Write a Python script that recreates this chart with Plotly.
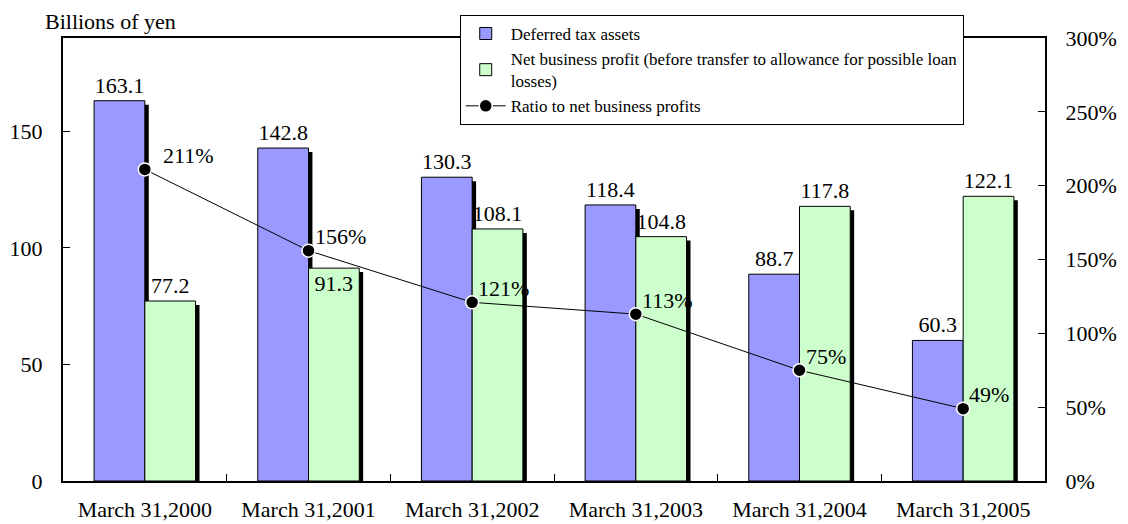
import plotly.graph_objects as go

dates = ["March 31,2000", "March 31,2001", "March 31,2002",
         "March 31,2003", "March 31,2004", "March 31,2005"]
deferred_tax = [163.1, 142.8, 130.3, 118.4, 88.7, 60.3]
net_profit = [77.2, 91.3, 108.1, 104.8, 117.8, 122.1]
ratio = [211, 156, 121, 113, 75, 49]

FONT = "Liberation Serif, Times New Roman, serif"
BLUE = "#9999FF"
GREEN = "#CCFFCC"
W = 0.31
SH = 0.024  # shadow shift (category units)
SHY = 1.7   # shadow drop (value units)

fig = go.Figure()

# drop shadows behind the bars
for vals, off in [(deferred_tax, -W), (net_profit, 0.0)]:
    fig.add_trace(go.Bar(
        x=dates, y=[v - SHY for v in vals], width=W, offset=off + SH,
        marker=dict(color="black", line=dict(width=0)),
        showlegend=False, hoverinfo="skip"))

fig.add_trace(go.Bar(
    x=dates, y=deferred_tax, name="Deferred tax assets",
    width=W, offset=-W,
    marker=dict(color=BLUE, line=dict(color="black", width=1)),
    text=[f"{v:.1f}" for v in deferred_tax], textposition="outside",
    textfont=dict(size=22, color="black", family=FONT), cliponaxis=False))

# the 2001 label sits down on the bar top in the original (clear of the line)
green_pos = ["outside", "inside", "outside", "outside", "outside", "outside"]
fig.add_trace(go.Bar(
    x=dates, y=net_profit,
    name="Net business profit (before transfer to allowance for possible loan<br>losses)",
    width=W, offset=0.0,
    marker=dict(color=GREEN, line=dict(color="black", width=1)),
    text=[f"{v:.1f}" for v in net_profit], textposition=green_pos,
    insidetextanchor="end", constraintext="none",
    textfont=dict(size=22, color="black", family=FONT), cliponaxis=False))

fig.add_trace(go.Scatter(
    x=dates, y=ratio, yaxis="y2", name="Ratio to net business profits",
    mode="lines+markers",
    line=dict(color="black", width=1),
    marker=dict(color="black", size=13, line=dict(color="white", width=1.5)),
    cliponaxis=False))

for i, (d, r) in enumerate(zip(dates, ratio)):
    fig.add_annotation(x=d, y=r, xref="x", yref="y2", text=f"{r}%",
                       showarrow=False, xanchor="left", yanchor="middle",
                       xshift=16 if i == 0 else 4, yshift=14,
                       font=dict(size=22, color="black", family=FONT))

fig.add_annotation(x=-0.02, y=1.0, xref="paper", yref="paper",
                   text="Billions of yen", showarrow=False,
                   xanchor="left", yanchor="bottom", yshift=2,
                   font=dict(size=22, color="black", family=FONT))

fig.update_layout(
    width=1128, height=524,
    margin=dict(l=63, r=83, t=38, b=43),
    paper_bgcolor="white", plot_bgcolor="white",
    barmode="overlay",
    font=dict(family=FONT, size=22, color="black"),
    showlegend=True,
    legend=dict(x=0.404, y=1.052, xanchor="left", yanchor="top",
                bgcolor="white", bordercolor="black", borderwidth=1,
                font=dict(size=17, family=FONT, color="black"),
                tracegroupgap=6, itemwidth=40),
    xaxis=dict(showline=True, linecolor="black", linewidth=2, mirror=True,
               ticks="inside", tickson="boundaries", ticklen=7,
               tickcolor="black", showgrid=False, automargin=False,
               ticklabelstandoff=8, range=[-0.5, 5.5]),
    yaxis=dict(range=[0, 190], tick0=0, dtick=50, automargin=False,
               showline=True, linecolor="black", linewidth=2,
               ticks="inside", ticklen=7, tickcolor="black",
               showgrid=False, zeroline=False, ticklabelstandoff=14),
    yaxis2=dict(range=[0, 300], tick0=0, dtick=50, automargin=False,
                ticksuffix="%", overlaying="y", side="right",
                showline=True, linecolor="black", linewidth=2,
                ticks="inside", ticklen=7, tickcolor="black",
                showgrid=False, zeroline=False, ticklabelstandoff=14),
)

fig.write_html("out.html", config={"displayModeBar": False},
               post_script="document.body.style.margin='0';")
